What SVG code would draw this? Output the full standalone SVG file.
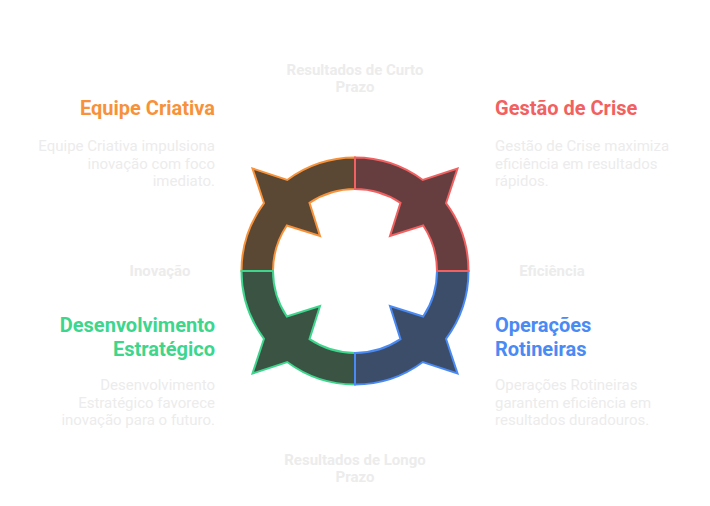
<svg xmlns="http://www.w3.org/2000/svg" width="710" height="506" viewBox="0 0 710 506">
<defs>
<style>
.seg{stroke-width:2;stroke-linejoin:miter}
.title{font-family:Roboto,"Liberation Sans",sans-serif;font-weight:700;font-size:20px}
.desc{font-family:Roboto,"Liberation Sans",sans-serif;font-size:15px;fill:#ececec}
.axis{font-family:Roboto,"Liberation Sans",sans-serif;font-weight:700;font-size:15px;fill:#ececec;text-anchor:middle}
.r{text-anchor:end}
</style>
<path id="seg" d="M241.5,271 A113.5,113.5 0 0 1 264,203.2 L252.5,168.5 L287.2,180 A113.5,113.5 0 0 1 355,157.5 L355,189 A82,82 0 0 0 309.5,202.8 L320,236 L286.8,225.5 A82,82 0 0 0 273,271 Z"/>
</defs>
<rect width="710" height="506" fill="#ffffff"/>
<g id="cycle">
<g id="seg-orange"><use href="#seg" class="seg" fill="#5a4734" stroke="#f7923a"/></g>
<g id="seg-green"><use href="#seg" class="seg" fill="#3a5343" stroke="#3dd68c" transform="rotate(270 355 271)"/></g>
<g id="seg-blue"><use href="#seg" class="seg" fill="#3c4d69" stroke="#4a8af4" transform="rotate(180 355 271)"/></g>
<g id="seg-red"><use href="#seg" class="seg" fill="#663e40" stroke="#f26161" transform="rotate(90 355 271)"/></g>
</g>
<g id="axis-labels">
<text class="axis" x="355" y="75">Resultados de Curto</text>
<text class="axis" x="355" y="92">Prazo</text>
<text class="axis" x="355" y="465">Resultados de Longo</text>
<text class="axis" x="355" y="482">Prazo</text>
<text class="axis" x="160" y="276">Inovação</text>
<text class="axis" x="552" y="276">Eficiência</text>
</g>
<g id="node-equipe">
<text class="title r" x="215" y="115" fill="#f7923a">Equipe Criativa</text>
<text class="desc r" x="215" y="151">Equipe Criativa impulsiona</text>
<text class="desc r" x="215" y="168.5">inovação com foco</text>
<text class="desc r" x="215" y="186">imediato.</text>
</g>
<g id="node-gestao">
<text class="title" x="495" y="115" fill="#f26161">Gestão de Crise</text>
<text class="desc" x="495" y="151">Gestão de Crise maximiza</text>
<text class="desc" x="495" y="168.5">eficiência em resultados</text>
<text class="desc" x="495" y="186">rápidos.</text>
</g>
<g id="node-desenvolvimento">
<text class="title r" x="215" y="332" fill="#3dd68c">Desenvolvimento</text>
<text class="title r" x="215" y="355.5" fill="#3dd68c">Estratégico</text>
<text class="desc r" x="215" y="390">Desenvolvimento</text>
<text class="desc r" x="215" y="407.5">Estratégico favorece</text>
<text class="desc r" x="215" y="425">inovação para o futuro.</text>
</g>
<g id="node-operacoes">
<text class="title" x="495" y="332" fill="#4a8af4">Operações</text>
<text class="title" x="495" y="355.5" fill="#4a8af4">Rotineiras</text>
<text class="desc" x="495" y="390">Operações Rotineiras</text>
<text class="desc" x="495" y="407.5">garantem eficiência em</text>
<text class="desc" x="495" y="425">resultados duradouros.</text>
</g>
</svg>
